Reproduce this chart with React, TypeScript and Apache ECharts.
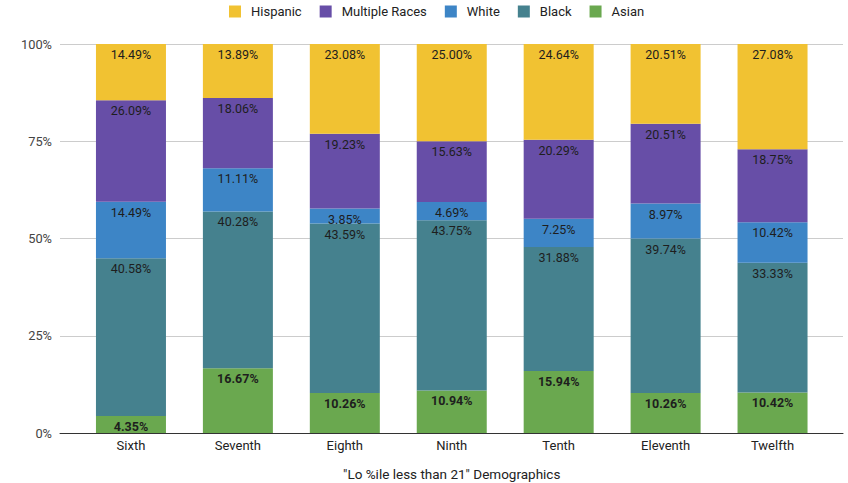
import React, { useEffect, useRef } from "react";
import * as echarts from "echarts";

const categories = ["Sixth", "Seventh", "Eighth", "Ninth", "Tenth", "Eleventh", "Twelfth"];
const asian = [4.35, 16.67, 10.26, 10.94, 15.94, 10.26, 10.42];
const black = [40.58, 40.28, 43.59, 43.75, 31.88, 39.74, 33.33];
const white = [14.49, 11.11, 3.85, 4.69, 7.25, 8.97, 10.42];
const multipleRaces = [26.09, 18.06, 19.23, 15.63, 20.29, 20.51, 18.75];
const hispanic = [14.49, 13.89, 23.08, 25.0, 24.64, 20.51, 27.08];
const yTicks = [0, 25, 50, 75, 100];
const xTitle = '"Lo %ile less than 21" Demographics';

const FONT = "Roboto, 'Liberation Sans', Arial, sans-serif";

export default function App() {
  const ref = useRef<HTMLDivElement>(null);
  useEffect(() => {
    if (!ref.current) return;
    const chart = echarts.init(ref.current, undefined, { renderer: "svg" });
    const mk = (name: string, data: number[], color: string, bold = false) => ({
      name,
      type: "bar",
      stack: "total",
      xAxisIndex: 0,
      yAxisIndex: 0,
      data,
      barWidth: 70,
      itemStyle: { color },
      label: {
        show: true,
        position: "insideTop",
        distance: 4,
        color: "#1e1e1e",
        fontFamily: FONT,
        fontSize: 12.5,
        fontWeight: bold ? "bold" : "normal",
        formatter: (p: any) => p.value.toFixed(2) + "%",
      },
    });
    chart.setOption({
      animation: false,
      textStyle: { fontFamily: FONT },
      legend: {
        top: 0,
        left: 224,
        itemWidth: 12,
        itemHeight: 12,
        itemGap: 18,
        icon: "rect",
        selectedMode: false,
        textStyle: { fontSize: 13, color: "#222", fontFamily: FONT, padding: [0, 0, 0, 5] },
        data: ["Hispanic", "Multiple Races", "White", "Black", "Asian"],
      },
      grid: [
        { left: 77.5, right: 22, top: 44, bottom: 50, outerBoundsMode: "none", containLabel: false },
        { left: 60, right: 5, top: 44, bottom: 50, outerBoundsMode: "none", containLabel: false },
      ],
      xAxis: [
        {
          type: "category",
          gridIndex: 0,
          data: categories,
          axisLine: { show: false },
          axisTick: { show: false },
          axisLabel: { color: "#222", fontSize: 13, margin: 6, fontFamily: FONT },
          name: xTitle,
          nameLocation: "middle",
          nameGap: 34,
          nameTextStyle: { color: "#222", fontSize: 13.5, fontFamily: FONT },
        },
        {
          type: "category",
          gridIndex: 1,
          data: [""],
          axisLine: { show: true, lineStyle: { color: "#333", width: 1 } },
          axisTick: { show: false },
          axisLabel: { show: false },
        },
      ],
      yAxis: [
        {
          type: "value",
          gridIndex: 0,
          min: 0,
          max: 100,
          interval: 25,
          show: false,
          splitLine: { show: false },
        },
        {
          type: "value",
          gridIndex: 1,
          min: yTicks[0],
          max: yTicks[yTicks.length - 1],
          interval: 25,
          axisLine: { show: false },
          axisTick: { show: false },
          axisLabel: { color: "#444", fontSize: 12.8, margin: 8, formatter: "{value}%", fontFamily: FONT },
          splitLine: { show: true, lineStyle: { color: "#cccccc" } },
        },
      ],
      series: [
        mk("Asian", asian, "#6aa84f", true),
        mk("Black", black, "#45818e"),
        mk("White", white, "#3d85c6"),
        mk("Multiple Races", multipleRaces, "#674ea7"),
        mk("Hispanic", hispanic, "#f1c232"),
      ],
    });
    return () => chart.dispose();
  }, []);
  return <div ref={ref} style={{ width: 848, height: 483, position: "absolute", left: 0, top: 0 }} />;
}
